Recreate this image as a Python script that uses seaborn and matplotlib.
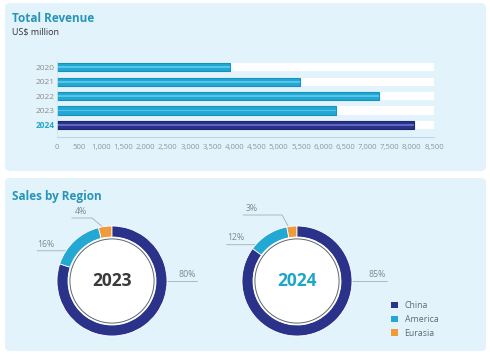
import numpy as np
import pandas as pd
import matplotlib
matplotlib.use("Agg")
import matplotlib.pyplot as plt
from matplotlib.patches import FancyBboxPatch, Circle, Patch
import seaborn as sns

# ---- data ----
years = ["2020", "2021", "2022", "2023", "2024"]
revenue = [3900, 5480, 7260, 6290, 8050]
x_ticks = list(range(0, 8501, 500))

regions = ["China", "America", "Eurasia"]
share_2023 = [80, 16, 4]
share_2024 = [85, 12, 3]

W, H = 490, 355
PANEL_BG = "#E3F3FB"
TEAL = "#2795B8"
CYAN = "#22A8D2"
NAVY = "#2A3289"
ORANGE = "#EF9B3C"
GREY = "#7D8A93"


def px_box(left, top, w, h):
    """pixel box (from top-left) -> figure fraction rect"""
    return [left / W, 1 - (top + h) / H, w / W, h / H]


sns.set_style("white")
plt.rcParams["font.family"] = ["Open Sans", "DejaVu Sans"]

fig = plt.figure(figsize=(W / 100, H / 100), dpi=100)
fig.patch.set_facecolor("white")

# light blue panels behind both sections
for rect in (px_box(5, 3, 481, 168), px_box(5, 178, 481, 173)):
    fig.add_artist(FancyBboxPatch(
        (rect[0], rect[1]), rect[2], rect[3], transform=fig.transFigure,
        boxstyle="round,pad=0,rounding_size=0.012",
        facecolor=PANEL_BG, edgecolor="none", zorder=0))

fig.text(12 / W, 1 - 18 / H, "Total Revenue", fontsize=8.5, fontweight="bold",
         color=TEAL, va="center", ha="left")
fig.text(12 / W, 1 - 32 / H, "US$ million", fontsize=6.5, color="#333333",
         va="center", ha="left")
fig.text(12 / W, 1 - 196 / H, "Sales by Region", fontsize=8.5, fontweight="bold",
         color=TEAL, va="center", ha="left")

# ---- bar chart ----
df_rev = pd.DataFrame({"Year": years, "Revenue": revenue})
xmax = x_ticks[-1]
ax = fig.add_axes(px_box(57, 60, 377, 77))
ax.patch.set_alpha(0)

body = {y: CYAN for y in years}
body[years[-1]] = NAVY
stripe = {y: "#55C6EA" for y in years}
stripe[years[-1]] = "#6166BE"
edge = ["#1892BC"] * (len(years) - 1) + ["#20266F"]

# white track behind each bar
sns.barplot(x=np.full(len(years), xmax), y=years, color="white",
            width=0.56, ax=ax, orient="h", edgecolor="none", linewidth=0)
sns.barplot(data=df_rev, x="Revenue", y="Year", hue="Year", palette=body,
            width=0.56, legend=False, ax=ax, orient="h", saturation=1)
# lighter highlight stripe through the middle of each bar
sns.barplot(data=df_rev, x="Revenue", y="Year", hue="Year", palette=stripe,
            width=0.13, legend=False, ax=ax, orient="h", saturation=1,
            edgecolor="none", linewidth=0)

n = len(years)
for i, bar in enumerate(ax.patches[n:2 * n]):
    bar.set_edgecolor(edge[i])
    bar.set_linewidth(0.8)

ax.set_xlim(0, xmax)
ax.set_ylim(4.84, -0.5)
ax.set_xticks(x_ticks)
ax.set_xticklabels([f"{t:,}" for t in x_ticks])
ax.set_xlabel("")
ax.set_ylabel("")
ax.tick_params(axis="x", labelsize=5.6, colors="#8A98A2", length=1.8,
               width=1.2, direction="in", pad=5)
ax.tick_params(axis="y", labelsize=6, colors="#8C8C8C", length=0, pad=2)
for lbl in ax.get_yticklabels():
    if lbl.get_text() == years[-1]:
        lbl.set_color("#25A8CB")
        lbl.set_fontweight("bold")
for side in ("top", "right"):
    ax.spines[side].set_visible(False)
ax.spines["bottom"].set_color("#BBD7E6")
ax.spines["left"].set_color("#D2E6F0")
ax.spines["bottom"].set_linewidth(0.8)
ax.spines["left"].set_linewidth(0.6)

# ---- donuts ----
colors = dict(zip(regions, sns.color_palette([NAVY, CYAN, ORANGE])))

# leader lines: (anchor angle on ring, elbow point, end x of the horizontal)
label_layout = {
    "2023": {"China": (0, (1.0, 0.0), 1.55),
             "America": (147, (-0.84, 0.55), -1.36),
             "Eurasia": (100, (-0.36, 1.145), -0.73)},
    "2024": {"China": (0, (1.0, 0.0), 1.64),
             "America": (139, (-0.76, 0.66), -1.28),
             "Eurasia": (99, (-0.27, 1.2), -0.98)},
}
center_color = {"2023": "#3A3A3A", "2024": "#1EA6C6"}

for year, shares, cx in (("2023", share_2023, 112), ("2024", share_2024, 297)):
    dax = fig.add_axes(px_box(cx - 66, 281 - 66, 132, 132))
    dax.pie(shares[::-1], colors=[colors[r] for r in regions[::-1]],
            startangle=90, counterclock=True, radius=1,
            wedgeprops=dict(width=0.2, edgecolor="white", linewidth=0.6))
    dax.add_patch(Circle((0, 0), 0.8, facecolor="white", edgecolor="none"))
    dax.add_patch(Circle((0, 0), 0.765, facecolor="white",
                         edgecolor="#5C6670", linewidth=0.7))
    dax.text(0, 0, year, ha="center", va="center", fontsize=12.5,
             fontweight="bold", color=center_color[year])
    for region, val in zip(regions, shares):
        ang, (ex, ey), hx = label_layout[year][region]
        a = np.deg2rad(ang)
        xs = [np.cos(a), ex, hx]
        ys = [np.sin(a), ey, ey]
        dax.plot(xs, ys, color="#A3AEB5", lw=0.6, clip_on=False, zorder=0)
        tx = hx - 0.18 if hx > 0 else hx + 0.16
        dax.text(tx, ey + 0.04, f"{val}%", ha="center", va="bottom",
                 fontsize=6.3, color=GREY, clip_on=False)
    dax.set_xlim(-1.2, 1.2)
    dax.set_ylim(-1.2, 1.2)
    dax.set_aspect("equal")
    dax.axis("off")

handles = [Patch(facecolor=colors[r], edgecolor="none", label=r) for r in regions]
fig.legend(handles=handles, loc="upper left",
           bbox_to_anchor=(391 / W, 1 - 301 / H), frameon=False,
           fontsize=6.3, labelcolor="#5F6B73", handlelength=0.75,
           handleheight=0.75, handletextpad=0.8, labelspacing=0.55,
           borderpad=0, borderaxespad=0)

fig.savefig("out.png", dpi=100, facecolor="white")
